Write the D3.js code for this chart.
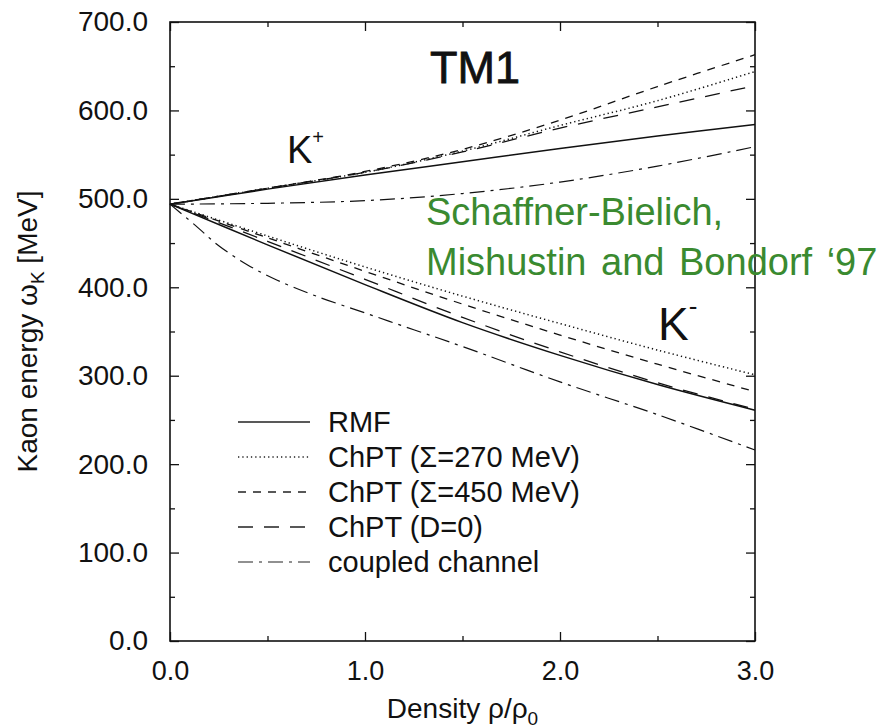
<!DOCTYPE html>
<html lang="en">
<head>
    <meta charset="UTF-8">
    <title>Kaon energy TM1</title>
    <style>
        body { margin: 0; background: #fff; }
        svg text { font-family: "Liberation Sans", Arial, sans-serif; }
    </style>
</head>
<body>
<script src="https://cdn.jsdelivr.net/npm/d3@7/dist/d3.min.js"></script>
<script>
    // densities rho/rho0 where curves were read
    const density = [0, 0.5, 1.0, 1.5, 2.0, 2.5, 3.0];
    // K+ branch (MeV)
    const rmfKp     = [494, 511, 527, 542, 557, 571, 584];
    const chpt270Kp = [494, 512, 530, 554, 583, 611, 644];
    const chpt450Kp = [494, 512, 531, 556, 589, 627, 663];
    const chptD0Kp  = [494, 512, 530, 553, 580, 604, 628];
    const coupledKp = [494, 495, 498, 506, 519, 537, 559];
    // K- branch (MeV)
    const rmfKm     = [494, 448, 403, 360, 323, 290, 261];
    const chpt270Km = [494, 458, 423, 390, 359, 329, 301];
    const chpt450Km = [494, 456, 418, 381, 346, 313, 282];
    const chptD0Km  = [494, 452, 409, 366, 327, 292, 262];
    const densityCC = [0, 0.13, 0.25, 0.4, 0.55, 0.75, 1.0, 1.25, 1.5, 2.0, 2.5, 3.0];
    const coupledKm = [494, 470, 447, 425, 408, 390, 371, 352, 333, 293, 256, 216];

    const legendNames = ["RMF", "ChPT (\u03A3=270 MeV)", "ChPT (\u03A3=450 MeV)", "ChPT (D=0)", "coupled channel"];
    const yTicks = [0, 100, 200, 300, 400, 500, 600, 700];
    const xTicks = [0, 1, 2, 3];

    var margin = {top: 22, right: 126, bottom: 87, left: 170},
        width = 881 - margin.left - margin.right,
        height = 728 - margin.top - margin.bottom;

    var xScale = d3.scaleLinear().domain([0, 3]).range([0, width]);
    var yScale = d3.scaleLinear().domain([0, 700]).range([height, 0]);

    var svg = d3.select("body").append("svg")
        .attr("width", 881)
        .attr("height", 728);
    var g = svg.append("g")
        .attr("transform", "translate(" + margin.left + "," + margin.top + ")");

    // dash styles for the five models
    var styles = [
        {dash: null, w: 1.5},
        {dash: "1.3,3", w: 1.5},
        {dash: "8,7", w: 1.3},
        {dash: "15,11", w: 1.3},
        {dash: "15,6,3,6", w: 1.2}
    ];

    var series = [
        {xs: density, ys: rmfKp, s: 0}, {xs: density, ys: rmfKm, s: 0},
        {xs: density, ys: chpt270Kp, s: 1}, {xs: density, ys: chpt270Km, s: 1},
        {xs: density, ys: chpt450Kp, s: 2}, {xs: density, ys: chpt450Km, s: 2},
        {xs: density, ys: chptD0Kp, s: 3}, {xs: density, ys: chptD0Km, s: 3},
        {xs: density, ys: coupledKp, s: 4}, {xs: densityCC, ys: coupledKm, s: 4}
    ];

    var line = d3.line()
        .x(d => xScale(d[0]))
        .y(d => yScale(d[1]))
        .curve(d3.curveCatmullRom);

    g.append("g").selectAll("path")
        .data(series)
        .join("path")
            .attr("d", d => line(d.xs.map((x, i) => [x, d.ys[i]])))
            .attr("fill", "none")
            .attr("stroke", "#111")
            .attr("stroke-width", d => styles[d.s].w)
            .attr("stroke-dasharray", d => styles[d.s].dash);

    // frame
    g.append("rect")
        .attr("width", width).attr("height", height)
        .attr("fill", "none").attr("stroke", "#111").attr("stroke-width", 1.6);

    // ticks on all four sides, pointing inward
    var fmt = d3.format(".1f");
    var yMinor = d3.range(50, 700, 100);
    var xMinor = [0.5, 1.5, 2.5];

    var yAxis = g.append("g").call(d3.axisLeft(yScale).tickValues(yTicks).tickSize(-9).tickPadding(22).tickFormat(fmt));
    g.append("g").call(d3.axisLeft(yScale).tickValues(yMinor).tickSize(-5).tickFormat(""));
    g.append("g").attr("transform", `translate(${width},0)`)
        .call(d3.axisRight(yScale).tickValues(yTicks).tickSize(-9).tickFormat(""));
    g.append("g").attr("transform", `translate(${width},0)`)
        .call(d3.axisRight(yScale).tickValues(yMinor).tickSize(-5).tickFormat(""));

    var xAxis = g.append("g").attr("transform", `translate(0,${height})`)
        .call(d3.axisBottom(xScale).tickValues(xTicks).tickSize(-9).tickPadding(20).tickFormat(fmt));
    g.append("g").attr("transform", `translate(0,${height})`)
        .call(d3.axisBottom(xScale).tickValues(xMinor).tickSize(-5).tickFormat(""));
    g.append("g").call(d3.axisTop(xScale).tickValues(xTicks).tickSize(-9).tickFormat(""));
    g.append("g").call(d3.axisTop(xScale).tickValues(xMinor).tickSize(-5).tickFormat(""));

    g.selectAll(".domain").remove();
    g.selectAll(".tick line").attr("stroke", "#111").attr("stroke-width", 1.3);
    yAxis.selectAll("text").attr("font-size", 28).attr("fill", "#111");
    xAxis.selectAll("text").attr("font-size", 27).attr("fill", "#111");

    // axis labels
    var yl = svg.append("text")
        .attr("transform", `translate(37,${margin.top + height / 2}) rotate(-90)`)
        .attr("text-anchor", "middle")
        .attr("font-size", 28)
        .attr("fill", "#111");
    yl.append("tspan").text("Kaon energy \u03C9");
    yl.append("tspan").attr("font-size", 19).attr("dy", 7).text("K");
    yl.append("tspan").attr("dy", -7).text(" [MeV]");

    var xl = svg.append("text")
        .attr("x", margin.left + width / 2)
        .attr("y", 718)
        .attr("text-anchor", "middle")
        .attr("font-size", 28)
        .attr("fill", "#111");
    xl.append("tspan").text("Density \u03C1/\u03C1");
    xl.append("tspan").attr("font-size", 19).attr("dy", 7).text("0");

    // labels inside the plot
    g.append("text").attr("x", 305).attr("y", 61)
        .attr("text-anchor", "middle").attr("font-size", 45).attr("fill", "#111")
        .attr("stroke", "#111").attr("stroke-width", 0.8).text("TM1");
    var kp = g.append("text").attr("x", 117).attr("y", 141).attr("font-size", 38).attr("fill", "#111");
    kp.append("tspan").text("K");
    kp.append("tspan").attr("font-size", 20).attr("dy", -19).text("+");
    var km = g.append("text").attr("x", 488).attr("y", 318).attr("font-size", 46).attr("fill", "#111");
    km.append("tspan").text("K");
    km.append("tspan").attr("font-size", 26).attr("dy", -25).text("-");

    // legend
    var legend = g.append("g").attr("transform", "translate(68,400)");
    var rows = legend.selectAll("g")
        .data(legendNames)
        .join("g")
            .attr("transform", (d, i) => `translate(0,${i * 35})`);
    rows.append("line")
        .attr("x1", 0).attr("x2", 72).attr("y1", 0).attr("y2", 0)
        .attr("stroke", "#222")
        .attr("stroke-width", (d, i) => styles[i].w)
        .attr("stroke-dasharray", (d, i) => styles[i].dash);
    rows.append("text")
        .attr("x", 90).attr("y", 10)
        .attr("font-size", 29)
        .attr("fill", "#111")
        .text(d => d);

    // reference note
    var note = svg.append("text").attr("font-size", 38).attr("fill", "#3a8a30");
    note.append("tspan").attr("x", 426).attr("y", 225).text("Schaffner-Bielich,");
    note.append("tspan").attr("x", 426).attr("y", 275).attr("word-spacing", 4).text("Mishustin and Bondorf \u201897");
</script>
</body>
</html>
